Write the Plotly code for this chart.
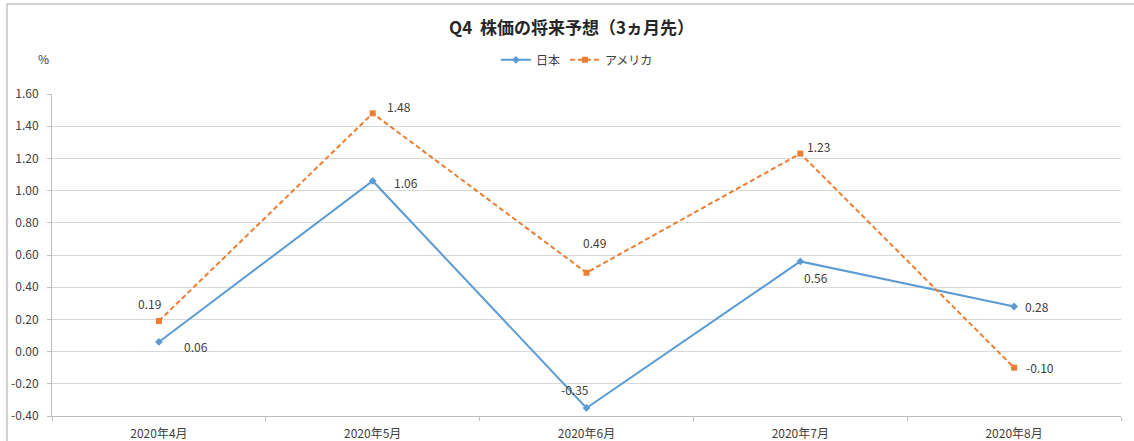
import plotly.graph_objects as go

categories = ["2020年4月", "2020年5月", "2020年6月", "2020年7月", "2020年8月"]
japan = [0.06, 1.06, -0.35, 0.56, 0.28]
america = [0.19, 1.48, 0.49, 1.23, -0.10]
y_ticks = [-0.40, -0.20, 0.00, 0.20, 0.40, 0.60, 0.80, 1.00, 1.20, 1.40, 1.60]

# label offsets (pixels) – style only
japan_off = [(37, -5), (33, -2), (-12, 18), (16, -16), (23, 0)]
america_off = [(-9, 18), (26, 7), (8, 30), (18, 7), (26, 0)]

BLUE = "#5B9BD5"
ORANGE = "#ED7D31"
FONT = "Noto Sans CJK JP, Liberation Sans, sans-serif"
TXT = "#404040"

fig = go.Figure()
fig.add_trace(go.Scatter(
    x=categories, y=japan, name="日本", mode="lines+markers",
    line=dict(color=BLUE, width=2),
    marker=dict(symbol="diamond", size=6, color=BLUE),
))
fig.add_trace(go.Scatter(
    x=categories, y=america, name="アメリカ", mode="lines+markers",
    line=dict(color=ORANGE, width=2, dash="5px,3px"),
    marker=dict(symbol="square", size=6, color=ORANGE),
))

ann = []
for c, v, (dx, dy) in zip(categories, japan, japan_off):
    ann.append(dict(x=c, y=v, text=f"{v:.2f}", showarrow=False, xshift=dx, yshift=dy,
                    font=dict(family=FONT, size=12, color=TXT)))
for c, v, (dx, dy) in zip(categories, america, america_off):
    ann.append(dict(x=c, y=v, text=f"{v:.2f}", showarrow=False, xshift=dx, yshift=dy,
                    font=dict(family=FONT, size=12, color=TXT)))
ann.append(dict(xref="paper", yref="paper", x=-0.0084, y=1.11, xanchor="center", yanchor="middle",
                text="%", showarrow=False, font=dict(family=FONT, size=12, color=TXT)))

fig.update_layout(
    width=1134, height=441,
    margin=dict(l=52, r=13, t=94, b=25, autoexpand=False),
    paper_bgcolor="white", plot_bgcolor="white",
    title=dict(text="<b>Q4  株価の将来予想（3ヵ月先）</b>", x=0.504, xanchor="center",
               y=1 - 28 / 441, yanchor="middle", xref="container", yref="container",
               font=dict(family=FONT, size=17, color="#262626")),
    legend=dict(orientation="h", x=0.491, xanchor="center", y=1.106, yanchor="middle",
                font=dict(family=FONT, size=12, color=TXT), bgcolor="rgba(0,0,0,0)",
                itemwidth=30, tracegroupgap=0),
    showlegend=True,
    annotations=ann,
    shapes=[
        dict(type="line", xref="paper", yref="paper", x0=-45 / 1069, x1=1.02, y0=(416 - 4) / 322, y1=(416 - 4) / 322,
             line=dict(color="#A6A6A6", width=1)),
        dict(type="line", xref="paper", yref="paper", x0=-45 / 1069, x1=-45 / 1069, y0=(416 - 4) / 322, y1=-0.2,
             line=dict(color="#A6A6A6", width=1)),
    ],
)
fig.update_xaxes(
    type="category", range=[-0.5, 4.5], tickson="boundaries", ticks="outside", ticklen=4,
    tickcolor="#BFBFBF", showgrid=False, showline=True, linecolor="#BFBFBF", linewidth=1,
    tickfont=dict(family=FONT, size=12, color=TXT), zeroline=False, automargin=False,
    ticklabelstandoff=7,
)
fig.update_yaxes(
    range=[-0.40, 1.60], tickvals=y_ticks, ticktext=[f"{t:.2f}" for t in y_ticks],
    ticks="outside", ticklen=4, tickcolor="#BFBFBF", showgrid=True, gridcolor="#D9D9D9",
    showline=True, linecolor="#BFBFBF", zeroline=False, automargin=False,
    tickfont=dict(family=FONT, size=12, color=TXT), ticklabelstandoff=6,
)
fig.write_html("out.html", config={"displayModeBar": False},
               post_script="document.body.style.margin='0px';document.body.style.overflow='hidden';")
